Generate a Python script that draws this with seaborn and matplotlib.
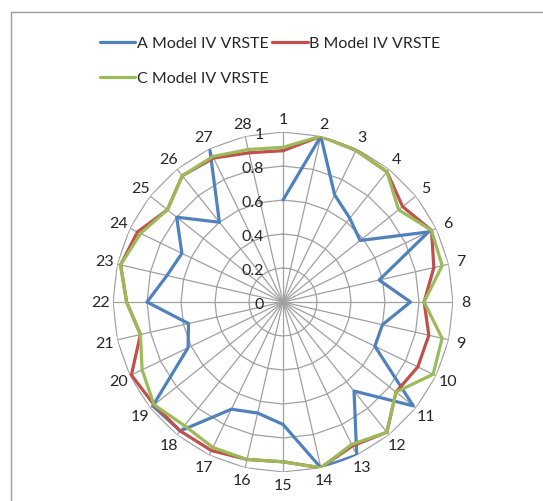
import numpy as np
import pandas as pd
import matplotlib
matplotlib.use("Agg")
import matplotlib.pyplot as plt
import matplotlib.transforms as mtransforms
from matplotlib.patches import Rectangle
import seaborn as sns

# Radar chart data: 28 categories, efficiency scores in [0, 1]
categories = [str(i) for i in range(1, 29)]
series_a = [0.60, 1.00, 0.70, 0.63, 0.58, 0.95, 0.58, 0.75, 0.60, 0.60,
            0.98, 0.67, 1.00, 1.00, 0.72, 0.67, 0.70, 0.97, 0.98, 0.62,
            0.57, 0.80, 0.70, 0.66, 0.80, 0.60, 0.99, np.nan]
series_b = [0.89, 1.00, 0.99, 0.98, 0.90, 0.97, 0.91, 0.83, 0.88, 0.88,
            0.85, 0.98, 0.94, 1.00, 0.94, 0.95, 0.97, 0.97, 0.97, 0.99,
            0.86, 0.92, 0.98, 0.95, 0.87, 0.95, 0.94, 0.90]
series_c = [0.91, 1.00, 0.99, 0.98, 0.87, 0.97, 0.96, 0.83, 0.96, 0.98,
            0.85, 0.98, 0.93, 1.00, 0.94, 0.95, 0.95, 0.93, 0.97, 0.92,
            0.86, 0.92, 0.98, 0.93, 0.87, 0.95, 0.95, 0.92]
series_names = ["A Model IV VRSTE", "B Model IV VRSTE", "C Model IV VRSTE"]
series_colors = ["#4F81BD", "#C0504D", "#9BBB59"]
radial_ticks = [0, 0.2, 0.4, 0.6, 0.8, 1.0]
radial_labels = ["0", "0.2", "0.4", "0.6", "0.8", "1"]

sns.set_style("white")
plt.rcParams["font.family"] = ["Lato", "DejaVu Sans"]

n = len(categories)
theta = np.linspace(0, 2 * np.pi, n, endpoint=False)

# Long-form table; each series closes back on its first category
rows = []
for name, vals in zip(series_names, [series_a, series_b, series_c]):
    th = np.append(theta, 2 * np.pi)
    vv = list(vals) + [vals[0]]
    for i, (t, v) in enumerate(zip(th, vv)):
        rows.append({"series": name, "theta": t, "value": v, "order": i})
df = pd.DataFrame(rows)
# A has no value for the last category, so its polyline stays open there
df = df[~df["value"].isna()]
df = df[~((df["series"] == series_names[0]) & (df["order"] == n))]

fig = plt.figure(figsize=(5.43, 5.02), dpi=100)
cx, cy, R = 283, 303, 170
W, H = 543, 502
ax = fig.add_axes([(cx - R) / W, 1 - (cy + R) / H, 2 * R / W, 2 * R / H],
                  projection="polar")
ax.set_theta_zero_location("N")
ax.set_theta_direction(-1)
ax.set_ylim(0, 1)
ax.grid(False)
ax.spines["polar"].set_visible(False)
ax.set_xticks([])
ax.set_yticks([])
ax.patch.set_alpha(0)

grid_color = "#a0a0a0"
ring_theta = np.append(theta, 2 * np.pi)
for r in radial_ticks[1:]:
    ax.plot(ring_theta, [r] * len(ring_theta), color=grid_color, lw=0.9, zorder=1)
for t in theta:
    ax.plot([t, t], [0, 1], color=grid_color, lw=0.9, zorder=1)

palette = dict(zip(series_names, series_colors))
sns.lineplot(data=df, x="theta", y="value", hue="series", hue_order=series_names,
             palette=palette, sort=False, estimator=None, lw=2.3, ax=ax,
             legend=True, zorder=3)
ax.set_xlabel("")
ax.set_ylabel("")
handles, labels = ax.get_legend_handles_labels()
ax.get_legend().remove()

text_color = "#262626"
# Radial value labels, just left of the vertical axis
off = mtransforms.offset_copy(ax.transData, fig=fig, x=-19, y=-2, units="dots")
for v, lab in zip(radial_ticks, radial_labels):
    ax.text(0, v, lab, transform=off, ha="right", va="center",
            fontsize=11.5, color=text_color)

# Category labels around the outside
for t, lab in zip(theta, categories):
    ax.text(t, 1.075, lab, ha="center", va="center", fontsize=11.5,
            color=text_color, clip_on=False)

# Legend: A and B in the first row, C below
order = [0, 2, 1]
hmap = dict(zip(labels, handles))
leg = fig.legend([hmap[series_names[i]] for i in order],
                 [series_names[i] for i in order],
                 loc="upper left", bbox_to_anchor=(100 / W, 1 - 37 / H),
                 ncol=2, frameon=False, fontsize=11.5, handlelength=2.2,
                 handletextpad=0.1, columnspacing=0.25, labelspacing=1.3,
                 borderpad=0, borderaxespad=0)
for txt in leg.get_texts():
    txt.set_color(text_color)

# Chart area border
fig.patches.append(Rectangle((11 / W, -0.1), 1.2, 1 - 13 / H + 0.1,
                             transform=fig.transFigure, fill=False,
                             edgecolor="#9a9a9a", lw=1.0))

fig.savefig("out.png", dpi=100)
